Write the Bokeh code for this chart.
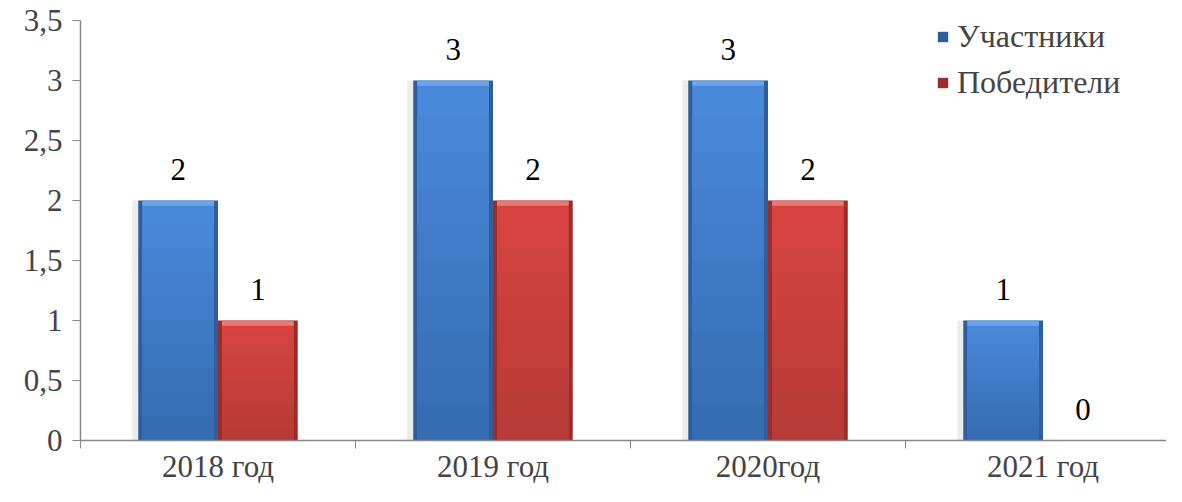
from bokeh.plotting import figure
from bokeh.models import FixedTicker, Legend, LegendItem, ColumnDataSource, LabelSet
from bokeh.embed import file_html
from bokeh.resources import INLINE
from bokeh.core.properties import value

categories = ["2018 год", "2019 год", "2020год", "2021 год"]
participants = [2, 3, 3, 1]
winners = [1, 2, 2, 0]
y_ticks = [0, 0.5, 1, 1.5, 2, 2.5, 3, 3.5]
y_labels = ["0", "0,5", "1", "1,5", "2", "2,5", "3", "3,5"]
series_names = ["Участники", "Победители"]

FONT = "Liberation Serif"
FS = "31px"
LFS = "32px"

p = figure(width=1166, height=486, output_backend="svg", toolbar_location=None,
           x_range=(0, 3.949), y_range=(0, 3.5),
           min_border_left=80, min_border_right=0, min_border_top=20, min_border_bottom=43)
p.outline_line_color = None
p.xgrid.visible = False
p.ygrid.visible = False
p.background_fill_color = None
p.border_fill_color = "white"

centers = [i + 0.5 for i in range(len(categories))]
bw = 0.29
off = 0.145
dx = 4 / 275.0
dy = 4 / 120.9


def mix(c1, c2, t):
    a = [int(c1[i:i + 2], 16) for i in (1, 3, 5)]
    b = [int(c2[i:i + 2], 16) for i in (1, 3, 5)]
    return "#" + "".join("%02x" % round(a[j] + (b[j] - a[j]) * t) for j in range(3))


styles = [
    dict(edge="#2e5e9c", top="#4a8bdc", bot="#356aaf", hi="#72aaee"),
    dict(edge="#9c2c2a", top="#d9453f", bot="#b53a36", hi="#ea857e"),
]
NS = 10
series = [participants, winners]
xs_all = [[c + (-off if k == 0 else off) for c in centers] for k in range(2)]

# soft shadows first, so that no bar is covered by a neighbour's shadow
for k, vals in enumerate(series):
    sh = ColumnDataSource(dict(x=[x - dx * 1.5 for x in xs_all[k]], top=vals))
    p.vbar(x="x", top="top", bottom=0, width=bw, source=sh,
           fill_color="#ececec", line_color=None)

legend_items = []
for k, (vals, st) in enumerate(zip(series, styles)):
    xs = xs_all[k]
    src = ColumnDataSource(dict(x=xs, top=vals,
                                hbot=[max(v - dy * 1.3, 0) for v in vals],
                                lbl=[str(v) for v in vals]))
    r = p.vbar(x="x", top="top", bottom=0, width=bw, source=src,
               fill_color=st["edge"], line_color=None)
    # vertical gradient: nested bars drawn from tallest (top colour) to shortest (bottom colour)
    for s in range(NS, 0, -1):
        f1 = s / NS
        col = mix(st["bot"], st["top"], (s - 0.5) / NS)
        sl = ColumnDataSource(dict(x=xs, t=[max(v * f1 - (dy * 0.4 if s == NS else 0), 0) for v in vals]))
        p.vbar(x="x", top="t", bottom=0, width=bw - 2 * dx, source=sl,
               fill_color=col, line_color=None)
    p.vbar(x="x", top="top", bottom="hbot", width=bw - 2 * dx, source=src,
           fill_color=st["hi"], line_color=None, fill_alpha=0.85)
    labels = LabelSet(x="x", y="top", text="lbl", source=src, text_align="center",
                      text_baseline="bottom", y_offset=21, text_font=value(FONT),
                      text_font_size=FS, text_color="black")
    p.add_layout(labels)
    legend_items.append(LegendItem(label=series_names[k], renderers=[r]))

legend = Legend(items=legend_items, location=(856, 339), padding=0, spacing=9,
                glyph_width=13, glyph_height=13, label_standoff=8,
                label_text_font=FONT, label_text_font_size=LFS,
                border_line_color=None, background_fill_alpha=0)
p.add_layout(legend)

# axes
ax = p.xaxis[0]
ax.ticker = FixedTicker(ticks=centers, minor_ticks=[0, 1, 2, 3, 4])
ax.major_label_overrides = {c: lab for c, lab in zip(centers, categories)}
ax.major_tick_line_color = None
ax.minor_tick_line_color = "#868686"
ax.minor_tick_out = 8
ax.minor_tick_in = 0
ax.axis_line_color = "#868686"
ax.axis_line_width = 1.5
ax.major_label_text_font = FONT
ax.major_label_text_font_size = FS
ax.major_label_standoff = 0

ay = p.yaxis[0]
ay.ticker = FixedTicker(ticks=y_ticks)
ay.major_label_overrides = {t: l for t, l in zip(y_ticks, y_labels)}
ay.major_tick_line_color = "#868686"
ay.major_tick_out = 8
ay.major_tick_in = 0
ay.minor_tick_line_color = None
ay.axis_line_color = "#868686"
ay.axis_line_width = 1.5
ay.major_label_text_font = FONT
ay.major_label_text_font_size = FS
ay.major_label_standoff = 10

open("out.html", "w").write(file_html(p, INLINE))
